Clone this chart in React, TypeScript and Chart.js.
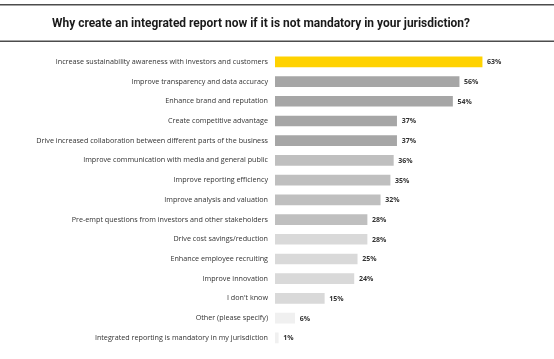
import React, { useEffect, useRef } from "react";
import { Chart, registerables } from "chart.js";

Chart.register(...registerables);

const TITLE = "Why create an integrated report now if it is not mandatory in your jurisdiction?";

const categories = [
  "Increase sustainability awareness with investors and customers",
  "Improve transparency and data accuracy",
  "Enhance brand and reputation",
  "Create competitive advantage",
  "Drive increased collaboration between different parts of the business",
  "Improve communication with media and general public",
  "Improve reporting efficiency",
  "Improve analysis and valuation",
  "Pre-empt questions from investors and other stakeholders",
  "Drive cost savings/reduction",
  "Enhance employee recruiting",
  "Improve innovation",
  "I don't know",
  "Other (please specify)",
  "Integrated reporting is mandatory in my jurisdiction",
];

const values = [63, 56, 54, 37, 37, 36, 35, 32, 28, 28, 25, 24, 15, 6, 1];

const barColors = [
  "#FFD200",
  "#A6A6A6", "#A6A6A6", "#A6A6A6", "#A6A6A6",
  "#BFBFBF", "#BFBFBF", "#BFBFBF", "#BFBFBF",
  "#D9D9D9", "#D9D9D9", "#D9D9D9", "#D9D9D9",
  "#F0F0F0", "#F0F0F0",
];

const LABEL_FONT = "'Open Sans', 'Noto Sans', sans-serif";

const decorPlugin = {
  id: "decor",
  afterDraw(chart: any) {
    const ctx = chart.ctx;
    ctx.save();
    ctx.strokeStyle = "#4d4d4d";
    ctx.lineWidth = 1.5;
    ctx.beginPath();
    ctx.moveTo(0, 4.75);
    ctx.lineTo(chart.width, 4.75);
    ctx.moveTo(0, 41.25);
    ctx.lineTo(chart.width, 41.25);
    ctx.stroke();

    ctx.fillStyle = "#1a1a1a";
    ctx.font = "bold 12.5px 'Roboto', 'Open Sans', sans-serif";
    ctx.textAlign = "center";
    ctx.textBaseline = "middle";
    const w = ctx.measureText(TITLE).width;
    ctx.save();
    ctx.translate(261, 24);
    ctx.scale(418 / w, 1);
    ctx.fillText(TITLE, 0, 0);
    ctx.restore();

    // value labels
    const meta = chart.getDatasetMeta(0);
    ctx.font = "bold 7px " + LABEL_FONT;
    ctx.fillStyle = "#333333";
    ctx.textAlign = "left";
    meta.data.forEach((bar: any, i: number) => {
      ctx.fillText(values[i] + "%", bar.x + 5, bar.y + 0.5);
    });
    ctx.restore();
  },
};

export default function App() {
  const ref = useRef<HTMLCanvasElement>(null);
  useEffect(() => {
    document.body.style.margin = "0";
    const chart = new Chart(ref.current!, {
      type: "bar",
      data: {
        labels: categories,
        datasets: [
          {
            data: values,
            backgroundColor: barColors,
            barThickness: 10,
            borderWidth: 0,
          },
        ],
      },
      options: {
        indexAxis: "y",
        animation: false,
        responsive: false,
        layout: { padding: { top: 52, bottom: 7, left: 0, right: 16 } },
        plugins: { legend: { display: false }, tooltip: { enabled: false } },
        scales: {
          x: { display: false, min: 0, max: 80 },
          y: {
            grid: { display: false, drawTicks: false },
            border: { display: false },
            ticks: {
              padding: 7,
              color: "#333333",
              font: { size: 7.2, family: LABEL_FONT },
              autoSkip: false,
            },
            afterFit(scale: any) {
              scale.width = 275;
            },
          },
        },
      } as any,
      plugins: [decorPlugin],
    });
    return () => chart.destroy();
  }, []);
  return (
    <div style={{ width: 554, height: 359, background: "#fff" }}>
      <canvas ref={ref} width={554} height={359} style={{ display: "block" }} />
    </div>
  );
}
